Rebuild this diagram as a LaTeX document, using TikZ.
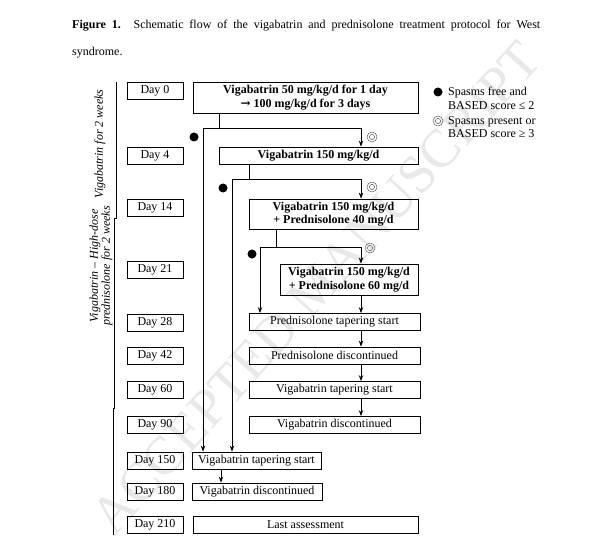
\documentclass[tikz,border=0pt]{standalone}
\usepackage{fontspec}
\setmainfont{Liberation Serif}
\newfontfamily\arrowfont{DejaVu Serif}
\usepackage{tikz}
\usetikzlibrary{arrows.meta,shapes,positioning}
\usepackage{xcolor}
\definecolor{wmgray}{RGB}{232,232,232}
\definecolor{ringgray}{RGB}{90,90,90}
\newcommand{\dfsize}{\fontsize{12bp}{13.5bp}\selectfont}
\tikzstyle{daybox} = [rectangle, draw, line width=0.8bp, minimum width=56bp, minimum height=17bp, inner sep=0pt, text centered]
\tikzstyle{drugbox} = [rectangle, draw, line width=0.8bp, inner sep=0pt, align=center, font=\dfsize\bfseries]
\tikzstyle{eventbox} = [rectangle, draw, line width=0.8bp, minimum height=17bp, inner sep=0pt, text centered]
\tikzstyle{link} = [line width=0.9bp]
\tikzstyle{arrow} = [line width=0.9bp,->,>={Stealth[length=6bp,width=4.5bp]}]
\tikzstyle{freedot} = [circle, fill=black, minimum size=9bp, inner sep=0pt]
\tikzstyle{presdot} = [circle, draw=ringgray, line width=0.5bp, minimum size=10bp, inner sep=0pt, path picture={\draw[ringgray, line width=0.5bp] (path picture bounding box.center) circle (2.6bp);}]

\begin{document}
\begin{tikzpicture}[x=1bp, y=-1bp, font=\dfsize]
\useasboundingbox (0,0) rectangle (610,552);
\fill[white] (0,0) rectangle (610,552);
% watermark behind everything
\node[text=wmgray, rotate=48, font=\fontsize{54bp}{54bp}\selectfont] (mark) at (316,288) {ACCEPTED MANUSCRIPT};

% caption
\node[anchor=base west, inner sep=0pt] (cap1) at (72,29) {\makebox[468bp][s]{\textbf{Figure 1.} Schematic flow of the vigabatrin and prednisolone treatment protocol for West}};
\node[anchor=base west, inner sep=0pt] (cap2) at (72,56) {syndrome.};

% day column
\node[daybox] (day0) at (155,90.5) {Day 0};
\node[daybox] (day4) at (155,155.5) {Day 4};
\node[daybox] (day14) at (155,207.5) {Day 14};
\node[daybox] (day21) at (155,270) {Day 21};
\node[daybox] (day28) at (155,322.5) {Day 28};
\node[daybox] (day42) at (155,355.5) {Day 42};
\node[daybox] (day60) at (155,390) {Day 60};
\node[daybox] (day90) at (155,425) {Day 90};
\node[daybox] (day150) at (155,460.5) {Day 150};
\node[daybox] (day180) at (155,491.5) {Day 180};
\node[daybox] (day210) at (155,525) {Day 210};

% phases
\draw[line width=0.9bp] (116,82) -- (116,218) -- (114,218) -- (114,408) -- (113,408) -- (113,535);
\node[rotate=90, font=\dfsize\itshape] (phase1) at (100,144) {Vigabatrin for 2 weeks};
\node[rotate=90, align=center, font=\fontsize{12bp}{12bp}\selectfont\itshape] (phase2) at (101,266) {Vigabatrin -- High-dose\\prednisolone for 2 weeks};

% treatment steps
\node[drugbox, minimum width=225bp, minimum height=31bp] (vgb50) at (305.5,97.5) {Vigabatrin 50 mg/kg/d for 1 day\\{\arrowfont\bfseries →} 100 mg/kg/d for 3 days};
\node[drugbox, minimum width=199bp, minimum height=17bp] (vgb150) at (318.5,155.5) {Vigabatrin 150 mg/kg/d};
\node[drugbox, minimum width=169bp, minimum height=30bp] (pred40) at (333.5,214) {Vigabatrin 150 mg/kg/d\\+ Prednisolone 40 mg/d};
\node[drugbox, minimum width=138bp, minimum height=31bp] (pred60) at (349,279.5) {Vigabatrin 150 mg/kg/d\\+ Prednisolone 60 mg/d};
\node[eventbox, minimum width=171bp] (predtap) at (334.5,322) {Prednisolone tapering start};
\node[eventbox, minimum width=171bp] (predoff) at (334.5,355.5) {Prednisolone discontinued};
\node[eventbox, minimum width=171bp] (vgbtap) at (334.5,390) {Vigabatrin tapering start};
\node[eventbox, minimum width=171bp] (vgboff) at (334.5,425) {Vigabatrin discontinued};
\node[eventbox, minimum width=129bp] (vgbtapb) at (256.5,460.5) {Vigabatrin tapering start};
\node[eventbox, minimum width=130bp] (vgboffb) at (257,491.5) {Vigabatrin discontinued};
\node[eventbox, minimum width=225bp] (last) at (305.5,525) {Last assessment};

% branches
\coordinate (j1) at (219,128);
\coordinate (l1) at (203,128);
\coordinate (r1) at (361,128);
\draw[link] (vgb50.south -| j1) -- (j1);
\draw[arrow] (l1) -- (r1) -- (vgb150.north -| r1);
\draw[arrow] (l1) -- (vgbtapb.north -| l1);

\coordinate (j2) at (249,179);
\coordinate (l2) at (232,179);
\coordinate (r2) at (361,179);
\draw[link] (vgb150.south -| j2) -- (j2);
\draw[arrow] (l2) -- (r2) -- (pred40.north -| r2);
\draw[arrow] (l2) -- (vgbtapb.north -| l2);

\coordinate (j3) at (276,247);
\coordinate (l3) at (260,247);
\coordinate (r3) at (361,247);
\draw[link] (pred40.south -| j3) -- (j3);
\draw[arrow] (l3) -- (r3) -- (pred60.north -| r3);
\draw[arrow] (l3) -- (predtap.north -| l3);

\draw[arrow] (pred60.south -| r3) -- (predtap.north -| r3);
\draw[arrow] (predtap.south -| r3) -- (predoff.north -| r3);
\draw[arrow] (predoff.south -| r3) -- (vgbtap.north -| r3);
\draw[arrow] (vgbtap.south -| r3) -- (vgboff.north -| r3);
\coordinate (j4) at (221,476);
\draw[arrow] (vgbtapb.south -| j4) -- (vgboffb.north -| j4);

% outcome marks
\node[freedot] (free1) at (194,137) {};
\node[presdot] (pres1) at (372,137) {};
\node[freedot] (free2) at (223,188) {};
\node[presdot] (pres2) at (372,187) {};
\node[freedot] (free3) at (252,254) {};
\node[presdot] (pres3) at (370,248) {};

% legend
\node[freedot] (keyfree) at (438,92) {};
\node[anchor=north west, inner sep=0pt, align=left] (keyfreetext) at (448,87) {Spasms free and\\BASED score ≤ 2};
\node[presdot] (keypres) at (438,121) {};
\node[anchor=north west, inner sep=0pt, align=left] (keyprestext) at (448,116) {Spasms present or\\BASED score ≥ 3};
\end{tikzpicture}
\end{document}
